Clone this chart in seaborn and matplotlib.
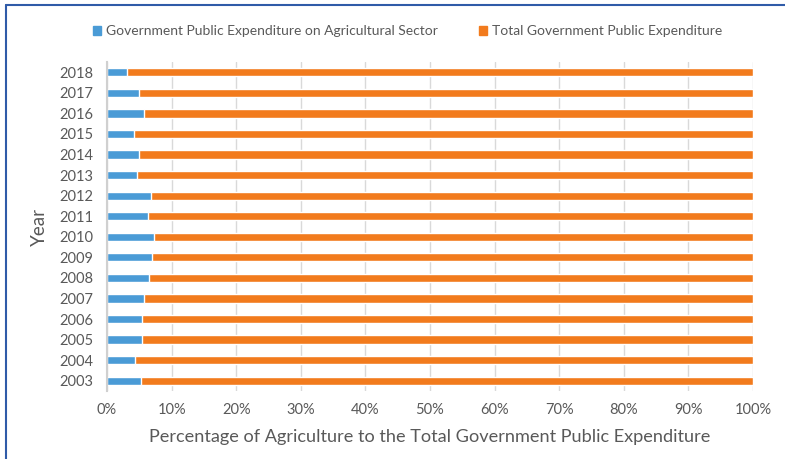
import matplotlib
matplotlib.use("Agg")
import matplotlib.pyplot as plt
import seaborn as sns
import pandas as pd
from matplotlib.lines import Line2D
from matplotlib.ticker import FuncFormatter

years = ["2018", "2017", "2016", "2015", "2014", "2013", "2012", "2011",
         "2010", "2009", "2008", "2007", "2006", "2005", "2004", "2003"]
agri_share = [3.1, 4.9, 5.7, 4.2, 5.0, 4.6, 6.8, 6.3,
              7.2, 6.9, 6.5, 5.7, 5.4, 5.4, 4.4, 5.3]
total_share = [96.9, 95.1, 94.3, 95.8, 95.0, 95.4, 93.2, 93.7,
               92.8, 93.1, 93.5, 94.3, 94.6, 94.6, 95.6, 94.7]
series_names = ["Government Public Expenditure on Agricultural Sector",
                "Total Government Public Expenditure"]
colors = ["#4A9BD6", "#F27B1D"]

df = pd.DataFrame({"Year": years, "agri": agri_share, "total": total_share})
df["cum"] = df["agri"] + df["total"]

sns.set_theme(style="white")
plt.rcParams["font.family"] = ["Lato", "DejaVu Sans"]
txt = "#595959"

fig = plt.figure(figsize=(7.85, 4.59), dpi=100)
ax = fig.add_axes([107/785, 1-391/459, (753-107)/785, (391-62)/459])

sns.barplot(data=df, x="cum", y="Year", order=years, color=colors[1],
            width=0.4, ax=ax, saturation=1, label=series_names[1], zorder=3)
sns.barplot(data=df, x="agri", y="Year", order=years, color=colors[0],
            width=0.4, ax=ax, saturation=1, label=series_names[0], zorder=3)

ax.set_xlim(0, 100)
ax.set_xticks(range(0, 101, 10))
ax.xaxis.set_major_formatter(FuncFormatter(lambda v, p: f"{int(v)}%"))
ax.grid(axis="x", color="#D9D9D9", linewidth=1, zorder=0)
ax.grid(axis="y", visible=False)
for s in ["top", "right", "bottom"]:
    ax.spines[s].set_visible(False)
ax.spines["left"].set_color("#D0D0D0")
ax.spines["left"].set_linewidth(1.5)
ax.spines["left"].set_zorder(4)
ax.tick_params(axis="both", length=0, colors=txt, labelsize=10.5)
ax.tick_params(axis="x", pad=9)
ax.tick_params(axis="y", pad=10)
ax.set_xlabel("Percentage of Agriculture to the Total Government Public Expenditure",
              fontsize=13.1, color=txt, labelpad=8)
ax.set_ylabel("Year", fontsize=13.5, color=txt, labelpad=8)

handles = [plt.Rectangle((0, 0), 1, 1, color=c) for c in colors]
ax.legend(handles, series_names, loc="center", bbox_to_anchor=(0.519, (459-31)/459),
          bbox_transform=fig.transFigure, ncol=2, frameon=False, fontsize=10,
          labelcolor=txt, handlelength=0.6, handleheight=0.6, handletextpad=0.3,
          columnspacing=3.0)

fig.add_artist(Line2D([6/785, 1.0], [1-5/459, 1-5/459], transform=fig.transFigure,
                      color="#2F5BA8", linewidth=1.5))
fig.add_artist(Line2D([6/785, 6/785], [0, 1-5/459], transform=fig.transFigure,
                      color="#2F5BA8", linewidth=1.5))

fig.savefig("out.png", dpi=100)
